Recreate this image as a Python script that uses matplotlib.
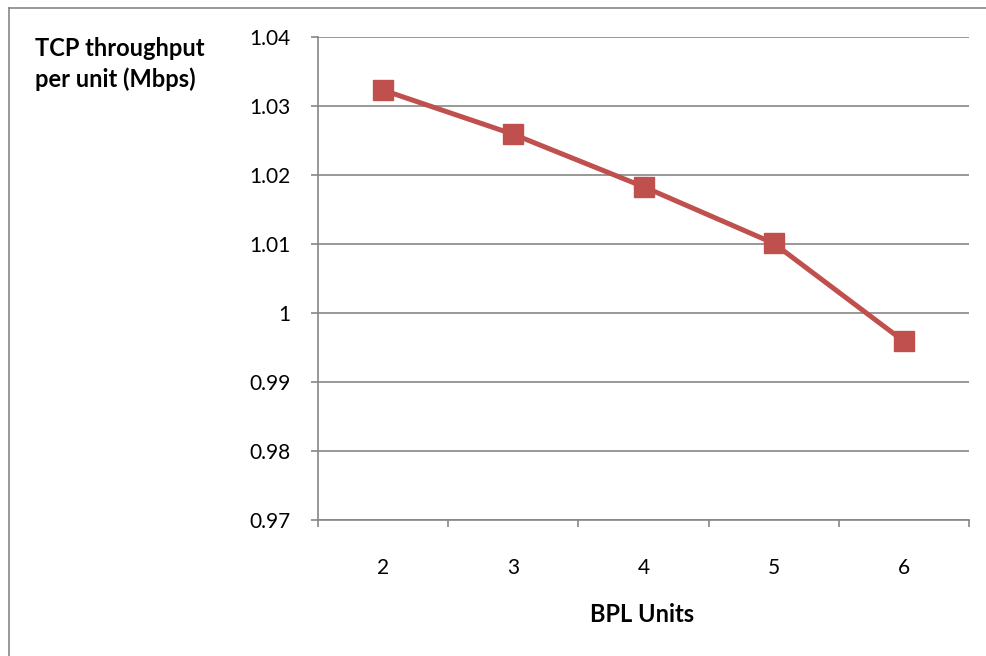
import matplotlib.pyplot as plt
from matplotlib.lines import Line2D

plt.rcParams['font.family'] = ['Lato', 'DejaVu Sans']

units = [2, 3, 4, 5, 6]
throughput = [1.0323, 1.0259, 1.0183, 1.0101, 0.9959]
y_ticks = [0.97, 0.98, 0.99, 1.0, 1.01, 1.02, 1.03, 1.04]
y_labels = ['0.97', '0.98', '0.99', '1', '1.01', '1.02', '1.03', '1.04']

grey = '#868686'
red = '#C0504D'

fig = plt.figure(figsize=(9.86, 6.56), dpi=100)
ax = fig.add_axes([318 / 986, 1 - 520 / 656, (969 - 318) / 986, (520 - 37) / 656])

ax.plot(units, throughput, color=red, lw=3.6, marker='s', markersize=14,
        markerfacecolor=red, markeredgecolor=red, zorder=3)

ax.set_xlim(1.5, 6.5)
ax.set_ylim(0.97, 1.04)
ax.set_yticks(y_ticks)
ax.set_yticklabels(y_labels)
ax.set_xticks(units)
ax.set_xticklabels([str(u) for u in units])
ax.set_xticks([1.5, 2.5, 3.5, 4.5, 5.5, 6.5], minor=True)

ax.grid(axis='y', color=grey, lw=1.2)
ax.set_axisbelow(True)
for s in ['top', 'right']:
    ax.spines[s].set_visible(False)
for s in ['left', 'bottom']:
    ax.spines[s].set_color(grey)
    ax.spines[s].set_linewidth(1.2)

ax.tick_params(axis='y', direction='out', length=5, width=1.2, color=grey,
               pad=15, labelsize=15)
ax.tick_params(axis='x', which='major', length=0, pad=27, labelsize=15)
ax.tick_params(axis='x', which='minor', direction='out', length=5, width=1.2, color=grey)

fig.text(35 / 986, 1 - 64 / 656, 'TCP throughput\nper unit (Mbps)', fontsize=17,
         fontweight='bold', ha='left', va='center', linespacing=1.4)
fig.text(642 / 986, 1 - 615 / 656, 'BPL Units', fontsize=17, fontweight='bold',
         ha='center', va='center')

# chart frame (only left and top edges are visible in the crop)
fig.add_artist(Line2D([9 / 986, 9 / 986], [0, 1 - 8 / 656], color=grey, lw=1.2,
                      transform=fig.transFigure))
fig.add_artist(Line2D([9 / 986, 1], [1 - 8 / 656, 1 - 8 / 656], color=grey, lw=1.2,
                      transform=fig.transFigure))

fig.savefig('out.png', dpi=100)
